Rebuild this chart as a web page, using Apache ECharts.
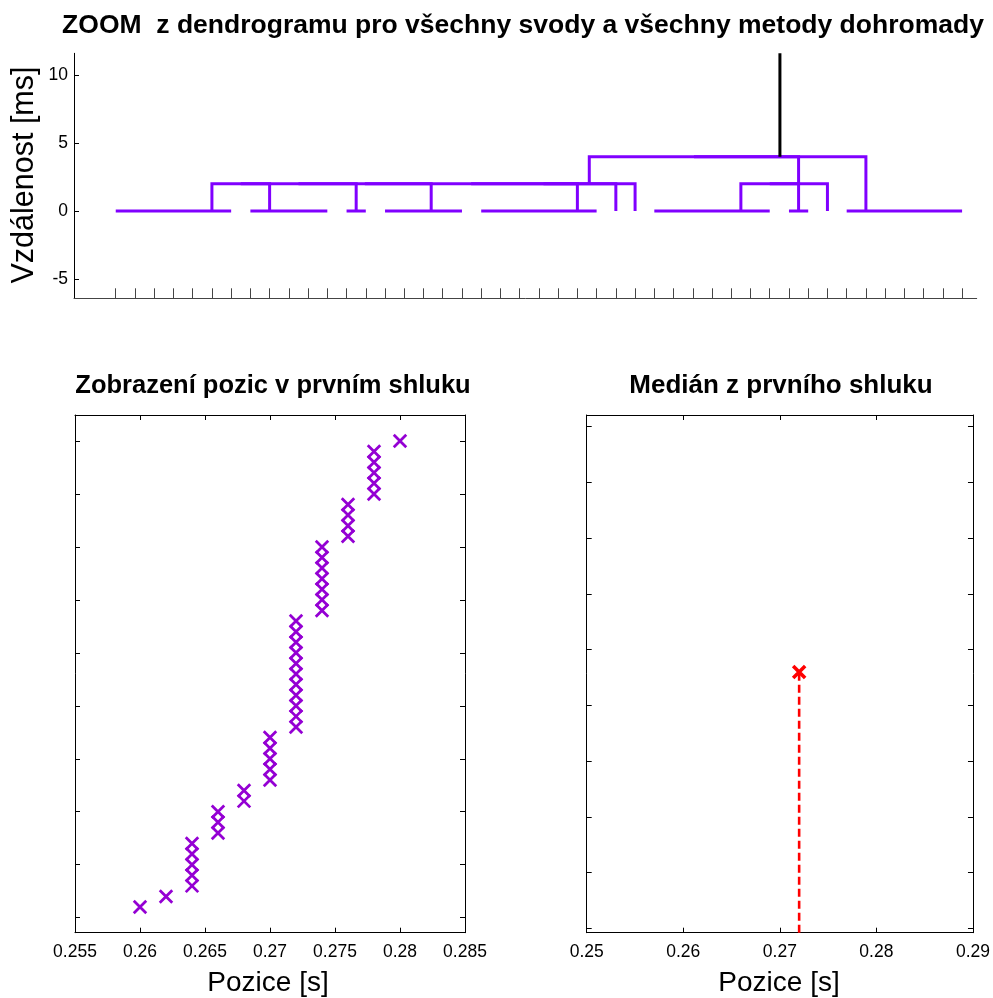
<!DOCTYPE html>
<html>
<head>
<meta charset="utf-8">
<title>Dendrogram – první shluk</title>
<script src="https://cdn.jsdelivr.net/npm/echarts@6/dist/echarts.min.js"></script>
<style>
  html, body { margin: 0; padding: 0; background: #ffffff; }
  #chart { width: 993px; height: 998px; }
</style>
</head>
<body>
<div id="chart"></div>
<script>
// ---- Dendrogram data (leaf order 1..45, distances in ms) ----
const leafCount = 45;
// groups of leaves joined at distance 0: first leaf, last leaf, position of the group node
const groupFirst = [1, 8, 13, 15, 20, 27, 28, 29, 36, 38, 39];
const groupLast  = [7, 12, 14, 19, 26, 27, 28, 35, 37, 38, 45];
const groupPos   = [6, 9, 13.5, 17.4, 25, 27, 28, 33.5, 36.5, 38, 40];
// higher merges: node ids 0..10 are the groups, merge k creates node 11 + k
const mergeLeft   = [0, 11, 12, 13, 14, 15, 7, 17, 16, 19];
const mergeRight  = [1, 2, 3, 4, 5, 6, 8, 9, 18, 10];
const mergeHeight = [2, 2, 2, 2, 2, 2, 2, 2, 4, 4];
const dendroTicksY = [-5, 0, 5, 10];

// ---- Positions in the first cluster [s], sorted ----
const positions = [
  0.260,
  0.262,
  0.264, 0.264, 0.264, 0.264, 0.264,
  0.266, 0.266, 0.266,
  0.268, 0.268,
  0.270, 0.270, 0.270, 0.270, 0.270,
  0.272, 0.272, 0.272, 0.272, 0.272, 0.272, 0.272, 0.272, 0.272, 0.272, 0.272,
  0.274, 0.274, 0.274, 0.274, 0.274, 0.274, 0.274,
  0.276, 0.276, 0.276, 0.276,
  0.278, 0.278, 0.278, 0.278, 0.278,
  0.280
];
const posTicksLeft  = [0.255, 0.26, 0.265, 0.27, 0.275, 0.28, 0.285];
const posTicksRight = [0.25, 0.26, 0.27, 0.28, 0.29];
const rankTicks = [0, 5, 10, 15, 20, 25, 30, 35, 40, 45];

// axis ranges
const dendroX = [-1.17, 45.76];
const dendroY = [-6.42, 11.6];
const leftRankY = [-1.42, 47.45];
const rightRankY = [-0.4, 46.05];

const PURPLE = '#8000ff';
const MARKER = '#9400d3';
const FONT = "'Liberation Sans', Arial, Helvetica, sans-serif";

// ---- build dendrogram polylines ----
const nodeX = groupPos.slice();
const nodeH = groupPos.map(() => 0);
const purpleLines = [];
for (let g = 0; g < groupFirst.length; g++) {
  if (groupLast[g] > groupFirst[g]) {
    purpleLines.push({ coords: [[groupFirst[g], 0], [groupLast[g], 0]] });
  }
}
for (let k = 0; k < mergeLeft.length; k++) {
  const a = mergeLeft[k], b = mergeRight[k], h = mergeHeight[k];
  purpleLines.push({
    coords: [[nodeX[a], nodeH[a]], [nodeX[a], h], [nodeX[b], h], [nodeX[b], nodeH[b]]]
  });
  nodeX.push((nodeX[a] + nodeX[b]) / 2);
  nodeH.push(h);
}
const rootId = nodeX.length - 1;
const rootLine = [{ coords: [[nodeX[rootId], nodeH[rootId]], [nodeX[rootId], dendroY[1]]] }];

const leafTicks = [];
for (let i = 1; i <= leafCount; i++) leafTicks.push(i);

// ---- scatter data: position vs. rank ----
const scatterData = positions.map((p, i) => [p, i + 1]);
const medianRank = (positions.length + 1) / 2;
const medianPos = positions[medianRank - 1];

const xMark = 'path://M0,0L10,10M10,0L0,10';

function boxAxis(gridIndex, pos, range, ticks, showLabels) {
  return {
    type: 'value',
    gridIndex: gridIndex,
    position: pos,
    min: range[0],
    max: range[1],
    splitLine: { show: false },
    axisLine: { show: true, onZero: false, lineStyle: { color: '#000', width: 1 } },
    axisTick: { show: true, inside: true, length: 5, customValues: ticks, lineStyle: { color: '#000', width: 1 } },
    axisLabel: {
      show: showLabels,
      customValues: ticks,
      formatter: (v) => String(v),
      fontFamily: FONT,
      fontSize: 17.5,
      color: '#000',
      margin: 10
    }
  };
}

const chart = echarts.init(document.getElementById('chart'), null, { renderer: 'canvas' });

const option = {
  backgroundColor: '#ffffff',
  animation: false,
  grid: [
    { left: 74, top: 53.3, width: 902.7, height: 245 },
    { left: 75, top: 415, width: 390, height: 517.7 },
    { left: 586.7, top: 415, width: 390, height: 517.7 }
  ],
  xAxis: [
    {
      type: 'value', gridIndex: 0, position: 'bottom',
      min: dendroX[0], max: dendroX[1],
      splitLine: { show: false },
      axisLine: { show: true, onZero: false, lineStyle: { color: '#444', width: 1 } },
      axisTick: { show: true, inside: true, length: 10, customValues: leafTicks, lineStyle: { color: '#444', width: 1 } },
      axisLabel: { show: false }
    },
    boxAxis(1, 'bottom', [0.255, 0.285], posTicksLeft, true),
    boxAxis(1, 'top', [0.255, 0.285], posTicksLeft, false),
    boxAxis(2, 'bottom', [0.25, 0.29], posTicksRight, true),
    boxAxis(2, 'top', [0.25, 0.29], posTicksRight, false)
  ],
  yAxis: [
    {
      type: 'value', gridIndex: 0, position: 'left',
      min: dendroY[0], max: dendroY[1],
      splitLine: { show: false },
      axisLine: { show: true, onZero: false, lineStyle: { color: '#000', width: 1 } },
      axisTick: { show: true, inside: true, length: 5, customValues: dendroTicksY, lineStyle: { color: '#000' } },
      axisLabel: {
        show: true, customValues: dendroTicksY, formatter: (v) => String(v),
        fontFamily: FONT, fontSize: 17.5, color: '#000', margin: 6
      }
    },
    boxAxis(1, 'left', leftRankY, rankTicks, false),
    boxAxis(1, 'right', leftRankY, rankTicks, false),
    boxAxis(2, 'left', rightRankY, rankTicks, false),
    boxAxis(2, 'right', rightRankY, rankTicks, false)
  ],
  series: [
    {
      type: 'lines', coordinateSystem: 'cartesian2d', polyline: true,
      xAxisIndex: 0, yAxisIndex: 0,
      data: purpleLines,
      lineStyle: { color: PURPLE, width: 3, opacity: 1 },
      silent: true
    },
    {
      type: 'lines', coordinateSystem: 'cartesian2d', polyline: true,
      xAxisIndex: 0, yAxisIndex: 0,
      data: rootLine,
      lineStyle: { color: '#000', width: 3, opacity: 1 },
      silent: true
    },
    {
      type: 'scatter', xAxisIndex: 1, yAxisIndex: 1,
      data: scatterData,
      symbol: xMark, symbolSize: 12.5,
      itemStyle: { color: MARKER, borderColor: MARKER, borderWidth: 2.8, opacity: 1 },
      silent: true
    },
    {
      type: 'line', xAxisIndex: 3, yAxisIndex: 3,
      data: [[medianPos, rightRankY[0]], [medianPos, medianRank]],
      symbol: 'none',
      lineStyle: { color: '#ff0000', width: 2.6, type: [8, 4] },
      silent: true
    },
    {
      type: 'scatter', xAxisIndex: 3, yAxisIndex: 3,
      data: [[medianPos, medianRank]],
      symbol: xMark, symbolSize: 12,
      itemStyle: { color: '#ff0000', borderColor: '#ff0000', borderWidth: 3.6, opacity: 1 },
      silent: true
    }
  ],
  graphic: [
    {
      type: 'text', x: 523, y: 26,
      style: { text: 'ZOOM  z dendrogramu pro všechny svody a všechny metody dohromady',
        font: 'bold 26.5px ' + FONT, fill: '#000', textAlign: 'center', textVerticalAlign: 'middle' }
    },
    {
      type: 'text', x: 273, y: 386,
      style: { text: 'Zobrazení pozic v prvním shluku',
        font: 'bold 25.5px ' + FONT, fill: '#000', textAlign: 'center', textVerticalAlign: 'middle' }
    },
    {
      type: 'text', x: 781, y: 386,
      style: { text: 'Medián z prvního shluku',
        font: 'bold 26px ' + FONT, fill: '#000', textAlign: 'center', textVerticalAlign: 'middle' }
    },
    {
      type: 'text', x: 268, y: 983,
      style: { text: 'Pozice [s]', font: '28px ' + FONT, fill: '#000',
        textAlign: 'center', textVerticalAlign: 'middle' }
    },
    {
      type: 'text', x: 779, y: 983,
      style: { text: 'Pozice [s]', font: '28px ' + FONT, fill: '#000',
        textAlign: 'center', textVerticalAlign: 'middle' }
    },
    {
      type: 'text', x: 25, y: 175, rotation: Math.PI / 2,
      style: { text: 'Vzdálenost [ms]', font: '30.5px ' + FONT, fill: '#000',
        textAlign: 'center', textVerticalAlign: 'middle' }
    }
  ]
};

chart.setOption(option);
</script>
</body>
</html>
